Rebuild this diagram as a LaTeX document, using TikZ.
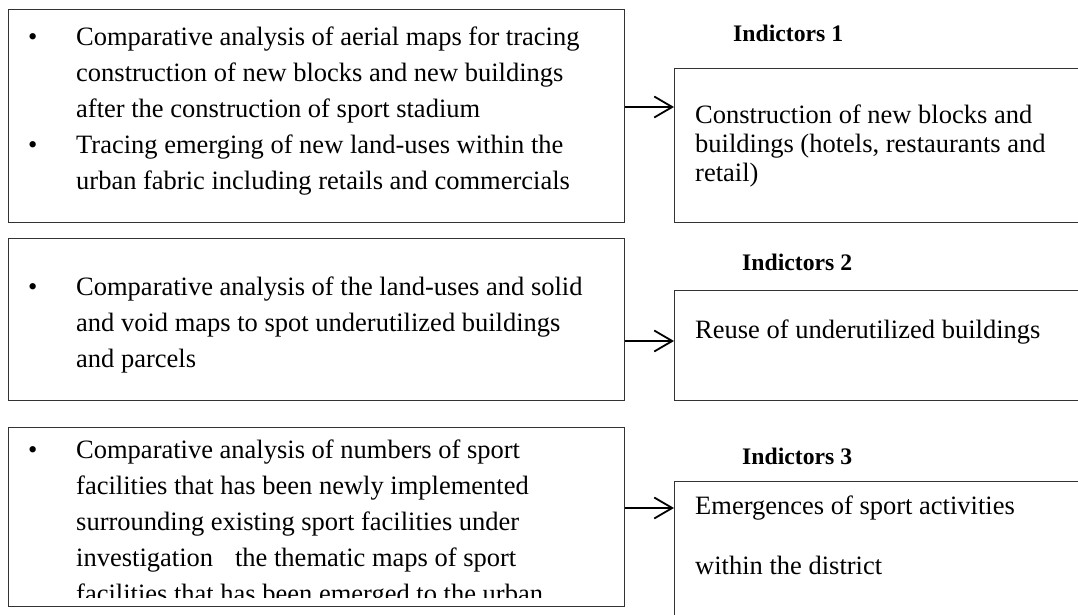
\documentclass[tikz,border=0pt]{standalone}
\usepackage{fontspec}
\setmainfont{Liberation Serif}
\usetikzlibrary{arrows.meta}

\begin{document}
\begin{tikzpicture}[x=1pt,y=-1pt]
    \tikzstyle{box}=[draw=black!80,line width=1.1pt,anchor=north west,inner sep=0pt]
    \tikzstyle{body}=[anchor=base west,inner sep=0pt,font=\fontsize{26.5}{36}\selectfont]
    \tikzstyle{res}=[anchor=base west,inner sep=0pt,font=\fontsize{26.5}{29}\selectfont]
    \tikzstyle{head}=[anchor=base west,inner sep=0pt,font=\fontsize{23.7}{28}\selectfont\bfseries]
    \tikzstyle{arr}=[-{Straight Barb[length=18pt,width=21pt]},line width=1.8pt]
    \useasboundingbox (0,0) rectangle (1078,615);
    \clip (0,0) rectangle (1078,615);
    \node[box,minimum width=616pt,minimum height=213pt] (ana1) at (8,9) {};
    \node[box,minimum width=616pt,minimum height=162pt] (ana2) at (8,238) {};
    \node[box,minimum width=616pt,minimum height=179pt] (ana3) at (8,427) {};
    \node[box,minimum width=440pt,minimum height=154pt] (ind1) at (674,68) {};
    \node[box,minimum width=440pt,minimum height=110pt] (ind2) at (674,290) {};
    \node[box,minimum width=440pt,minimum height=200pt] (ind3) at (674,481) {};
    \node[body] (txt1) at (28,46) {\begin{tabular}[t]{@{}p{48pt}@{}l@{}}
        \textbullet & Comparative analysis of aerial maps for tracing\\
        & construction of new blocks and new buildings\\
        & after the construction of sport stadium\\
        \textbullet & Tracing emerging of new land-uses within the\\
        & urban fabric including retails and commercials
    \end{tabular}};
    \node[body] (txt2) at (28,295) {\begin{tabular}[t]{@{}p{48pt}@{}l@{}}
        \textbullet & Comparative analysis of the land-uses and solid\\
        & and void maps to spot underutilized buildings\\
        & and parcels
    \end{tabular}};
    \begin{scope}
        \clip (8,427) rectangle (624,597);
        \node[body] (txt3) at (28,458) {\begin{tabular}[t]{@{}p{48pt}@{}l@{}}
            \textbullet & Comparative analysis of numbers of sport\\
            & facilities that has been newly implemented\\
            & surrounding existing sport facilities under\\
            & investigation\hspace{22pt}the thematic maps of sport\\
            & facilities that has been emerged to the urban
        \end{tabular}};
    \end{scope}
    \node[head] (lab1) at (733,42) {Indictors 1};
    \node[head] (lab2) at (742,270) {Indictors 2};
    \node[head] (lab3) at (742,464) {Indictors 3};
    \node[res] (res1) at (695,124) {\begin{tabular}[t]{@{}l@{}}
        Construction of new blocks and\\
        buildings (hotels, restaurants and\\
        retail)
    \end{tabular}};
    \node[res] (res2) at (695,338) {Reuse of underutilized buildings};
    \node[res] (res3) at (695,514) {\begin{tabular}[t]{@{}l@{}}
        Emergences of sport activities\\[31pt]
        within the district
    \end{tabular}};
    \coordinate (lvl1) at (0,107);
    \coordinate (lvl2) at (0,341);
    \coordinate (lvl3) at (0,508);
    \draw[arr] (ana1.east |- lvl1) -- (ind1.west |- lvl1);
    \draw[arr] (ana2.east |- lvl2) -- (ind2.west |- lvl2);
    \draw[arr] (ana3.east |- lvl3) -- (ind3.west |- lvl3);
\end{tikzpicture}
\end{document}
